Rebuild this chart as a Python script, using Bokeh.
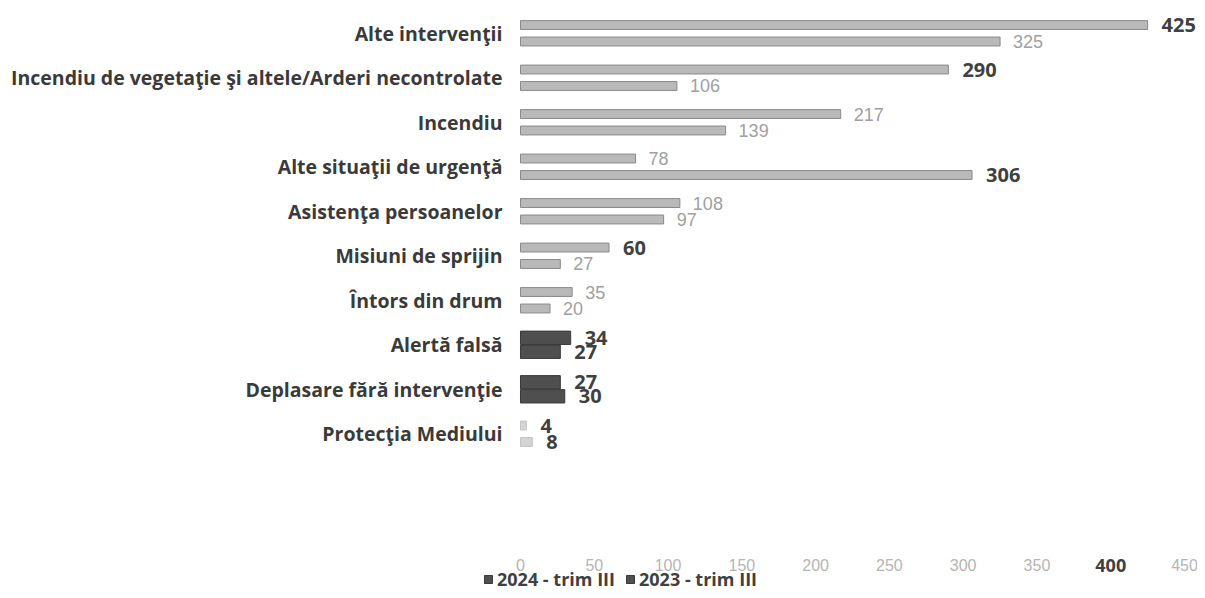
from bokeh.plotting import figure
from bokeh.models import Range1d, ColumnDataSource, Legend, LegendItem, FixedTicker
from bokeh.core.properties import value
from bokeh.embed import file_html
from bokeh.resources import INLINE

categories = [
    "Alte intervenţii",
    "Incendiu de vegetaţie şi altele/Arderi necontrolate",
    "Incendiu",
    "Alte situaţii de urgenţă",
    "Asistenţa persoanelor",
    "Misiuni de sprijin",
    "Întors din drum",
    "Alertă falsă",
    "Deplasare fără intervenţie",
    "Protecţia Mediului",
]
values_2024 = [425, 290, 217, 78, 108, 60, 35, 34, 27, 4]
values_2023 = [325, 106, 139, 306, 97, 27, 20, 27, 30, 8]
series_names = ["2024 - trim III", "2023 - trim III"]
x_ticks = [0, 50, 100, 150, 200, 250, 300, 350, 400, 450]

# styling helpers (which labels appear bold/dark in the scan)
bold_2024 = [True, True, False, False, False, True, False, True, True, True]
bold_2023 = [False, False, False, True, False, False, False, True, True, True]
dark_rows = [7, 8]
faint_rows = [9]
highlight_tick = 400

n = len(categories)
ypos = list(range(n))


def colors(idx_list):
    out = []
    for i in idx_list:
        if i in dark_rows:
            out.append("#4f4f4f")
        elif i in faint_rows:
            out.append("#d4d4d4")
        else:
            out.append("#b9b9b9")
    return out


def lines(idx_list):
    out = []
    for i in idx_list:
        if i in dark_rows:
            out.append("#3a3a3a")
        elif i in faint_rows:
            out.append("#c4c4c4")
        else:
            out.append("#8a8a8a")
    return out


def heights(idx_list):
    return [0.3 if i in dark_rows else 0.2 for i in idx_list]


off_a, off_b = -0.19, 0.18


def offsets(idx_list, off):
    return [(off * 0.85 if i in dark_rows else off) for i in idx_list]


ya_pos = [y + o for y, o in zip(ypos, offsets(ypos, off_a))]
yb_pos = [y + o for y, o in zip(ypos, offsets(ypos, off_b))]

src_a = ColumnDataSource(dict(y=ya_pos, v=values_2024, h=heights(ypos),
                              c=colors(ypos), lc=lines(ypos)))
src_b = ColumnDataSource(dict(y=yb_pos, v=values_2023, h=heights(ypos),
                              c=colors(ypos), lc=lines(ypos)))

p = figure(frame_width=719, frame_height=587, output_backend="svg", toolbar_location=None,
           x_range=Range1d(-28.46, 458.8), y_range=Range1d(12.652, -0.539),
           min_border_left=478, min_border_right=0, min_border_top=9, min_border_bottom=0)
p.outline_line_color = None
p.grid.grid_line_color = None
p.xaxis.visible = False

ya = p.yaxis[0]
ya.ticker = FixedTicker(ticks=ypos)
ya.major_label_overrides = {i: c for i, c in enumerate(categories)}
ya.axis_line_color = None
ya.major_tick_line_color = None
ya.minor_tick_line_color = None
ya.major_tick_out = 0
ya.major_tick_in = 0
ya.major_label_standoff = -24
ya.major_label_text_font = "Open Sans"
ya.major_label_text_font_style = "bold"
ya.major_label_text_font_size = "19.5px"
ya.major_label_text_color = "#3a3a3a"

ra = p.hbar(y="y", right="v", left=0, height="h", source=src_a,
            fill_color="c", line_color="lc", line_width=1)
rb = p.hbar(y="y", right="v", left=0, height="h", source=src_b,
            fill_color="c", line_color="lc", line_width=1)


def label_sources(vals, ys, bold_flags):
    b = dict(x=[], y=[], t=[])
    l = dict(x=[], y=[], t=[])
    for v, y, f in zip(vals, ys, bold_flags):
        d = b if f else l
        d["x"].append(v)
        d["y"].append(y)
        d["t"].append(str(v))
    return b, l


b1, l1 = label_sources(values_2024, ya_pos, bold_2024)
b2, l2 = label_sources(values_2023, yb_pos, bold_2023)
bold_src = ColumnDataSource(dict(x=b1["x"] + b2["x"], y=b1["y"] + b2["y"], t=b1["t"] + b2["t"]))
light_src = ColumnDataSource(dict(x=l1["x"] + l2["x"], y=l1["y"] + l2["y"], t=l1["t"] + l2["t"]))

p.text(x="x", y="y", text="t", source=bold_src, x_offset=14,
       text_align="left", text_baseline="middle", text_font=value("Open Sans"),
       text_font_style="bold", text_font_size="20px", text_color="#404040")
p.text(x="x", y="y", text="t", source=light_src, x_offset=13,
       text_align="left", text_baseline="middle", text_font=value("Liberation Sans"),
       text_font_size="18px", text_color="#a0a0a0")

# value-axis tick labels
tick_y = 11.955
norm_ticks = [t for t in x_ticks if t != highlight_tick]
p.text(x=norm_ticks, y=[tick_y] * len(norm_ticks), text=[str(t) for t in norm_ticks],
       text_align="center", text_baseline="middle", text_font=value("Liberation Sans"),
       text_font_size="16px", text_color="#b5b5b5")
p.text(x=[highlight_tick], y=[tick_y], text=[str(highlight_tick)],
       text_align="center", text_baseline="middle", text_font=value("Open Sans"),
       text_font_style="bold", text_font_size="18px", text_color="#404040")

legend = Legend(items=[LegendItem(label=series_names[0], renderers=[ra], index=7),
                       LegendItem(label=series_names[1], renderers=[rb], index=7)],
                orientation="horizontal", location=(5, 5),
                glyph_width=10, glyph_height=10, spacing=10, label_standoff=4,
                label_text_font="Open Sans", label_text_font_style="bold",
                label_text_font_size="18px", label_text_color="#404040",
                background_fill_alpha=0, border_line_color=None, padding=0, margin=0)
p.add_layout(legend, "center")

open("out.html", "w").write(file_html(p, INLINE))
